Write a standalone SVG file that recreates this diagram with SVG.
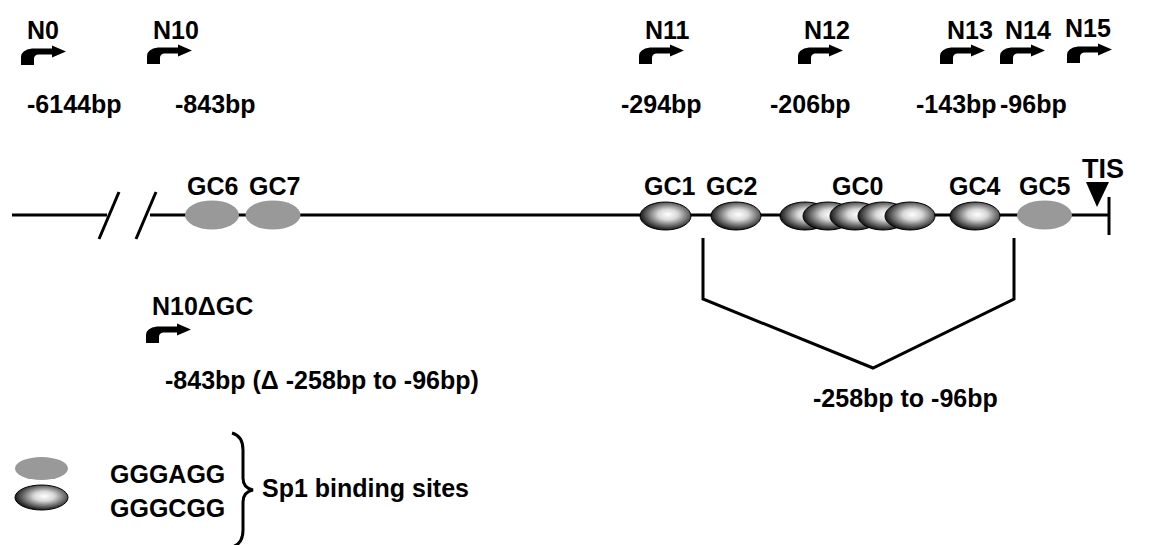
<svg xmlns="http://www.w3.org/2000/svg" width="1149" height="545" viewBox="0 0 1149 545">
<defs>
<radialGradient id="gcg" cx="0.55" cy="0.45" r="0.55" fx="0.55" fy="0.45">
<stop offset="0" stop-color="#ffffff"/>
<stop offset="0.35" stop-color="#d8d8d8"/>
<stop offset="1" stop-color="#1a1a1a"/>
</radialGradient>
<path id="tss" d="M0,0 L0,-8 Q0,-15 11,-16.5 L31,-16.5 L31,-19.5 L45,-13.5 L31,-7.5 L31,-10.5 L17,-10.5 Q13,-10 13,-6 L13,0 Z"/>
</defs>
<style>
text{font-family:"Liberation Sans",Arial,sans-serif;font-weight:bold;font-size:25px;fill:#000}
.ln{stroke:#000;stroke-width:3;fill:none}
.dk{fill:url(#gcg);stroke:#000;stroke-width:1}
.gy{fill:#999999}
</style>
<rect width="1149" height="545" fill="#fff"/>

<g id="connectors">
<line class="ln" x1="12" y1="215" x2="107" y2="215"/>
<line class="ln" x1="150" y1="215" x2="1109" y2="215"/>
<line class="ln" x1="99" y1="239" x2="119" y2="192"/>
<line class="ln" x1="136" y1="239" x2="156" y2="192"/>
<line class="ln" x1="1109" y1="197" x2="1109" y2="235"/>
<polyline class="ln" points="703,238 703,299 873,368 1014,299 1014,238"/>
</g>

<g id="N0"><text x="27" y="39">N0</text><use href="#tss" x="21" y="65"/><text x="27" y="113">-6144bp</text></g>
<g id="N10"><text x="153" y="39">N10</text><use href="#tss" x="147" y="64"/><text x="175" y="113">-843bp</text></g>
<g id="N11"><text x="645" y="39">N11</text><use href="#tss" x="639" y="64"/><text x="621" y="113">-294bp</text></g>
<g id="N12"><text x="804" y="39">N12</text><use href="#tss" x="798" y="64"/><text x="770" y="113">-206bp</text></g>
<g id="N13"><text x="947" y="39">N13</text><use href="#tss" x="940" y="64"/><text x="916" y="113">-143bp</text></g>
<g id="N14"><text x="1005" y="39">N14</text><use href="#tss" x="1000" y="64"/><text x="1000" y="113">-96bp</text></g>
<g id="N15"><text x="1065" y="37">N15</text><use href="#tss" x="1067" y="63"/></g>

<g id="GC6"><text x="187" y="195">GC6</text><ellipse class="gy" cx="212" cy="215" rx="27" ry="14.5"/></g>
<g id="GC7"><text x="249" y="195">GC7</text><ellipse class="gy" cx="273" cy="215" rx="27.5" ry="14.5"/></g>
<g id="GC1"><text x="644" y="195">GC1</text><ellipse class="dk" cx="665.5" cy="216" rx="25.5" ry="14"/></g>
<g id="GC2"><text x="706" y="195">GC2</text><ellipse class="dk" cx="736" cy="216" rx="25" ry="14"/></g>
<g id="GC0"><text x="832" y="195">GC0</text>
<ellipse class="dk" cx="805" cy="216" rx="25" ry="14"/>
<ellipse class="dk" cx="828" cy="216" rx="25" ry="14"/>
<ellipse class="dk" cx="855" cy="216" rx="25" ry="14"/>
<ellipse class="dk" cx="883" cy="216" rx="25" ry="14"/>
<ellipse class="dk" cx="910" cy="216" rx="25" ry="14"/></g>
<g id="GC4"><text x="949" y="195">GC4</text><ellipse class="dk" cx="975" cy="216" rx="25" ry="14"/></g>
<g id="GC5"><text x="1019" y="195">GC5</text><ellipse class="gy" cx="1044.5" cy="215" rx="27.5" ry="14.5"/></g>
<g id="TIS"><text x="1082" y="178" style="font-size:27px">TIS</text><polygon points="1086,182 1109,182 1097,207" fill="#000"/></g>

<g id="range"><text x="813" y="407">-258bp to -96bp</text></g>

<g id="N10dGC"><text x="152" y="315">N10ΔGC</text><use href="#tss" x="146" y="343"/><text x="165" y="389">-843bp (Δ -258bp to -96bp)</text></g>

<g id="legend">
<ellipse class="gy" cx="41.5" cy="468.5" rx="26.5" ry="11.5"/>
<ellipse class="dk" cx="41.5" cy="497.5" rx="26.5" ry="12.5"/>
<text x="110" y="483">GGGAGG</text>
<text x="110" y="517">GGGCGG</text>
<path class="ln" d="M232,433 Q243,436 243,450 L243,478 Q243,488 253,490 Q243,492 243,502 L243,530 Q243,544 232,547"/>
<text x="262" y="497">Sp1 binding sites</text>
</g>
</svg>
